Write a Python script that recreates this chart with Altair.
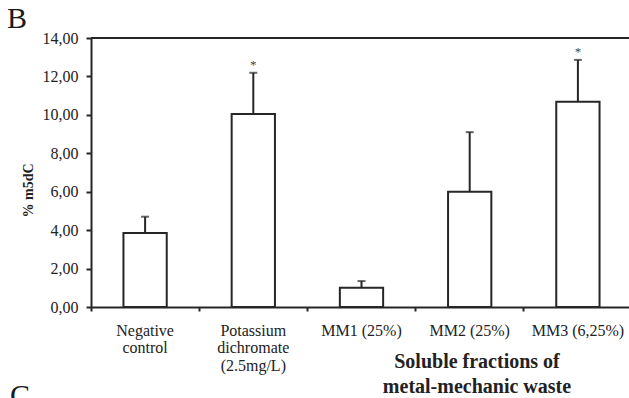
import altair as alt
import pandas as pd

categories = ["Negative|control", "Potassium|dichromate|(2.5mg/L)", "MM1 (25%)", "MM2 (25%)", "MM3 (6,25%)"]
values = [3.85, 10.05, 1.0, 6.0, 10.68]
errors = [0.85, 2.14, 0.35, 3.1, 2.18]
stars = ["", "*", "", "", "*"]
y_ticks = [0, 2, 4, 6, 8, 10, 12, 14]
group_title = ["Soluble fractions of", "metal-mechanic waste"]
panel_letters = ["B", "C"]

df = pd.DataFrame({"cat": categories, "val": values, "err": errors, "star": stars})
df["top"] = df["val"] + df["err"]

INK = "#262626"
FONT = "Liberation Serif"

x_scale = alt.Scale(paddingInner=0, paddingOuter=0, range=[0, 541])
x = alt.X("cat:N", sort=categories, scale=x_scale,
          axis=alt.Axis(title=None, labelAngle=0, labelExpr="split(datum.label, '|')",
                        labelFont=FONT, labelFontSize=16, labelLineHeight=17.5,
                        labelColor="#222", labelPadding=11, tickSize=4, tickWidth=2,
                        tickColor=INK, domainColor=INK, domainWidth=2, bandPosition=0,
                        labelOverlap=False, labelLimit=300))
y_scale = alt.Scale(domain=[0, 14], nice=False)
y_axis = alt.Axis(title="% m5dC", values=y_ticks,
                  labelExpr="replace(format(datum.value, '.2f'), '.', ',')",
                  labelFont=FONT, labelFontSize=16, labelColor="#222", labelPadding=8,
                  tickSize=5, tickWidth=2, tickColor=INK, domainColor=INK, domainWidth=2,
                  grid=False, titleFont=FONT, titleFontSize=14, titleFontWeight="bold",
                  titleColor="#222", titleAngle=-90, titleX=-63, titleY=152,
                  titleBaseline="middle", titleAlign="center")

base = alt.Chart(df)

bars = base.mark_bar(width=alt.RelativeBandSize(0.4), fill="white", stroke=INK, strokeWidth=2).encode(
    x=x, y=alt.Y("val:Q", scale=y_scale, axis=y_axis))
err = base.mark_rule(color=INK, strokeWidth=2).encode(x=x, y=alt.Y("val:Q", scale=y_scale, axis=y_axis), y2="top:Q")
cap = base.mark_tick(color=INK, thickness=2, size=8).encode(x=x, y=alt.Y("top:Q", scale=y_scale, axis=y_axis))
star = base.mark_text(font=FONT, fontSize=13, color="#444", baseline="alphabetic", dy=-4).encode(
    x=x, y=alt.Y("top:Q", scale=y_scale, axis=y_axis), text="star:N")

top_line = alt.Chart(pd.DataFrame({"v": [14]})).mark_rule(color=INK, strokeWidth=2).encode(
    y=alt.Y("v:Q", scale=y_scale, axis=y_axis), x=alt.value(0), x2=alt.value(545))

t1 = alt.Chart(pd.DataFrame({"t": [group_title[0]]})).mark_text(
    font=FONT, fontSize=20, fontWeight="bold", color="#222", align="center", baseline="alphabetic"
).encode(x=alt.value(386), y=alt.value(330), text="t:N")
t2 = alt.Chart(pd.DataFrame({"t": [group_title[1]]})).mark_text(
    font=FONT, fontSize=20, fontWeight="bold", color="#222", align="center", baseline="alphabetic"
).encode(x=alt.value(386), y=alt.value(355), text="t:N")

lb = alt.Chart(pd.DataFrame({"t": [panel_letters[0]]})).mark_text(
    font=FONT, fontSize=30, color="#1a1a1a", align="left", baseline="alphabetic"
).encode(x=alt.value(-84), y=alt.value(-10), text="t:N")
lc = alt.Chart(pd.DataFrame({"t": [panel_letters[1]]})).mark_text(
    font=FONT, fontSize=30, color="#1a1a1a", align="left", baseline="alphabetic"
).encode(x=alt.value(-81), y=alt.value(367), text="t:N")

chart = alt.layer(bars, err, cap, star, top_line, t1, t2, lb, lc).properties(
    width=538, height=269,
    autosize=alt.AutoSizeParams(type="none"),
    padding={"left": 91, "top": 38, "right": 0, "bottom": 91},
    background="white",
).configure_view(stroke=None)

chart.save("out.html", embed_options={"renderer": "svg", "actions": False})
